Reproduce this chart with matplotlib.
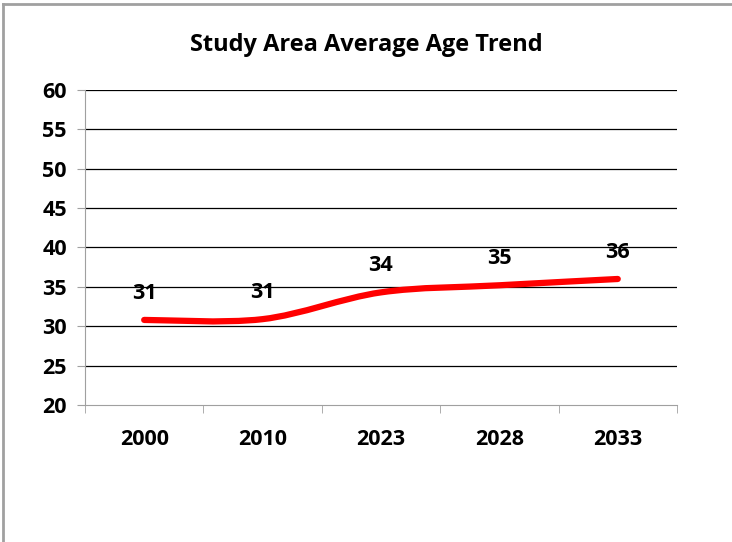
import numpy as np
import matplotlib.pyplot as plt
from matplotlib.path import Path
from matplotlib.patches import PathPatch
from matplotlib.lines import Line2D

plt.rcParams['font.family'] = ['Open Sans', 'DejaVu Sans']
plt.rcParams['font.weight'] = 'bold'

years = ['2000', '2010', '2023', '2028', '2033']
avg_age = [30.8, 30.9, 34.3, 35.2, 36.0]
labels = ['31', '31', '34', '35', '36']

fig = plt.figure(figsize=(7.32, 5.42), dpi=100)
ax = fig.add_axes([0.1161, 0.2528, 0.8087, 0.5812])

# smooth line like excel (catmull-rom bezier through the points)
x = np.arange(len(years), dtype=float)
y = np.array(avg_age)
verts = [(x[0], y[0])]
codes = [Path.MOVETO]
for i in range(len(x) - 1):
    p0 = (x[i - 1], y[i - 1]) if i > 0 else (x[i], y[i])
    p1 = (x[i], y[i])
    p2 = (x[i + 1], y[i + 1])
    p3 = (x[i + 2], y[i + 2]) if i + 2 < len(x) else p2
    c1 = (p1[0] + (p2[0] - p0[0]) / 6, p1[1] + (p2[1] - p0[1]) / 6)
    c2 = (p2[0] - (p3[0] - p1[0]) / 6, p2[1] - (p3[1] - p1[1]) / 6)
    verts += [c1, c2, p2]
    codes += [Path.CURVE4] * 3
ax.add_patch(PathPatch(Path(verts, codes), fill=False, edgecolor='#ff0000',
                       lw=4.5, capstyle='round', zorder=3))

for xi, yi, lab in zip(x, y, labels):
    ax.annotate(lab, (xi, yi), xytext=(0, 19), textcoords='offset points',
                ha='center', va='center', fontsize=15.5, fontweight='bold')

ax.set_xlim(-0.5, 4.5)
ax.set_ylim(20, 60)
ax.set_yticks(range(20, 61, 5))
ax.set_xticks(x)
ax.set_xticklabels(years)
ax.set_xticks(np.arange(-0.5, 5, 1), minor=True)
ax.tick_params(axis='x', which='major', length=0, pad=17, labelsize=15.5)
ax.tick_params(axis='x', which='minor', length=6, color='#a0a0a0', direction='out')
ax.tick_params(axis='y', length=6, color='#a0a0a0', pad=7, labelsize=15.5)
for lab in ax.get_xticklabels() + ax.get_yticklabels():
    lab.set_fontweight('bold')

for v in range(25, 61, 5):
    ax.axhline(v, color='black', lw=0.9, zorder=1)
for s in ['top', 'right']:
    ax.spines[s].set_visible(False)
ax.spines['left'].set_color('#a0a0a0')
ax.spines['bottom'].set_color('#a0a0a0')

fig.text(0.5, 0.917, 'Study Area Average Age Trend', ha='center', va='center',
         fontsize=17, fontweight='bold')

# chart frame border
fig.add_artist(Line2D([0.004, 0.004], [0, 0.993], transform=fig.transFigure,
                      color='#a0a0a0', lw=2))
fig.add_artist(Line2D([0.004, 1], [0.993, 0.993], transform=fig.transFigure,
                      color='#a0a0a0', lw=2))

plt.savefig('out.png')
